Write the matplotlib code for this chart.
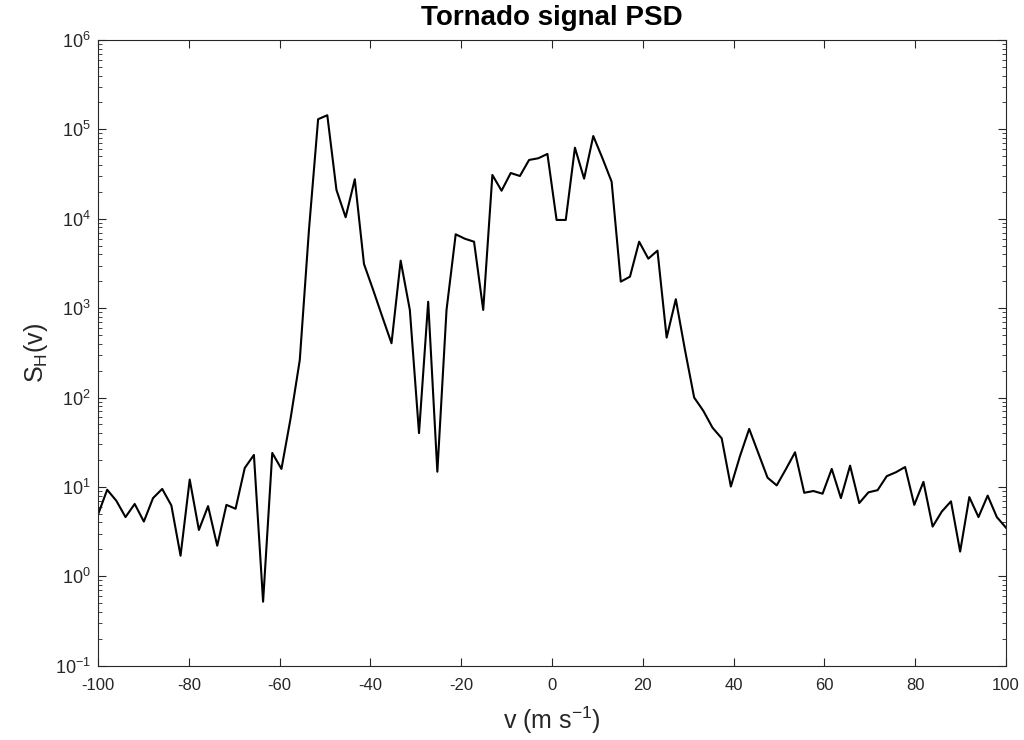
import numpy as np
import matplotlib
matplotlib.use("Agg")
import matplotlib.pyplot as plt
from matplotlib.ticker import LogLocator, NullFormatter

plt.rcParams['font.family'] = ['Liberation Sans', 'DejaVu Sans']
plt.rcParams['mathtext.fontset'] = 'custom'
plt.rcParams['mathtext.rm'] = 'Liberation Sans'
plt.rcParams['mathtext.it'] = 'Liberation Sans:italic'
plt.rcParams['mathtext.bf'] = 'Liberation Sans:bold'
plt.rcParams['axes.unicode_minus'] = False

# velocity bins (100 points from -100 to 100 m/s)
v = np.linspace(-100, 100, 100)

# PSD values
psd = [4.9, 9.3, 7.0, 4.6, 6.45, 4.1, 7.5, 9.5, 6.2, 1.7,
       12.1, 3.3, 6.1, 2.2, 6.3, 5.7, 16.3, 22.8, 0.52, 24,
       15.9, 58.6, 263, 7500, 130000, 144000, 21000, 10400, 27700, 3120,
       1600, 800, 405, 3400, 955, 40, 1180, 14.8, 955, 6700,
       5980, 5540, 955, 30900, 20600, 32500, 30100, 45500, 47500, 53100,
       9700, 9700, 62400, 28100, 84300, 47600, 26000, 1980, 2250, 5540,
       3580, 4400, 468, 1260, 340, 100, 71, 46, 35, 10.1,
       22.2, 44.6, 23.8, 12.7, 10.4, 15.8, 24.4, 8.6, 9.0, 8.4,
       15.9, 7.5, 17.3, 6.6, 8.7, 9.2, 13.2, 14.6, 16.7, 6.3,
       11.4, 3.6, 5.3, 6.9, 1.89, 7.7, 4.6, 8.0, 4.6, 3.5]

xticks = np.arange(-100, 101, 20)

fig = plt.figure(figsize=(10.24, 7.4), dpi=100)
ax = fig.add_axes([98 / 1024, 1 - 665.7 / 740, 908 / 1024, 625.7 / 740])

ax.semilogy(v, psd, color='black', linewidth=1.5)
ax.set_xlim(-100, 100)
ax.set_ylim(1e-1, 1e6)
ax.set_xticks(xticks)
ax.yaxis.set_major_locator(LogLocator(base=10, numticks=10))
ax.yaxis.set_minor_locator(LogLocator(base=10, subs=np.arange(2, 10), numticks=20))
ax.yaxis.set_minor_formatter(NullFormatter())

grey = '#262626'
for s in ax.spines.values():
    s.set_color(grey)
    s.set_linewidth(0.8)
ax.tick_params(which='both', direction='in', top=True, right=True,
               color=grey, labelcolor=grey)
ax.tick_params(which='major', length=6)
ax.tick_params(which='minor', length=3)
ax.tick_params(axis='x', labelsize=12, pad=9)
ax.tick_params(axis='y', labelsize=13, pad=5)

ax.set_title('Tornado signal PSD', fontsize=20, fontweight='bold', pad=11)
ax.set_xlabel('v (m s$^{-1}$)', fontsize=18, color=grey, labelpad=8)
ax.set_ylabel('S$_{\\mathrm{H}}$(v)', fontsize=18, color=grey)

fig.savefig('out.png', dpi=100)
